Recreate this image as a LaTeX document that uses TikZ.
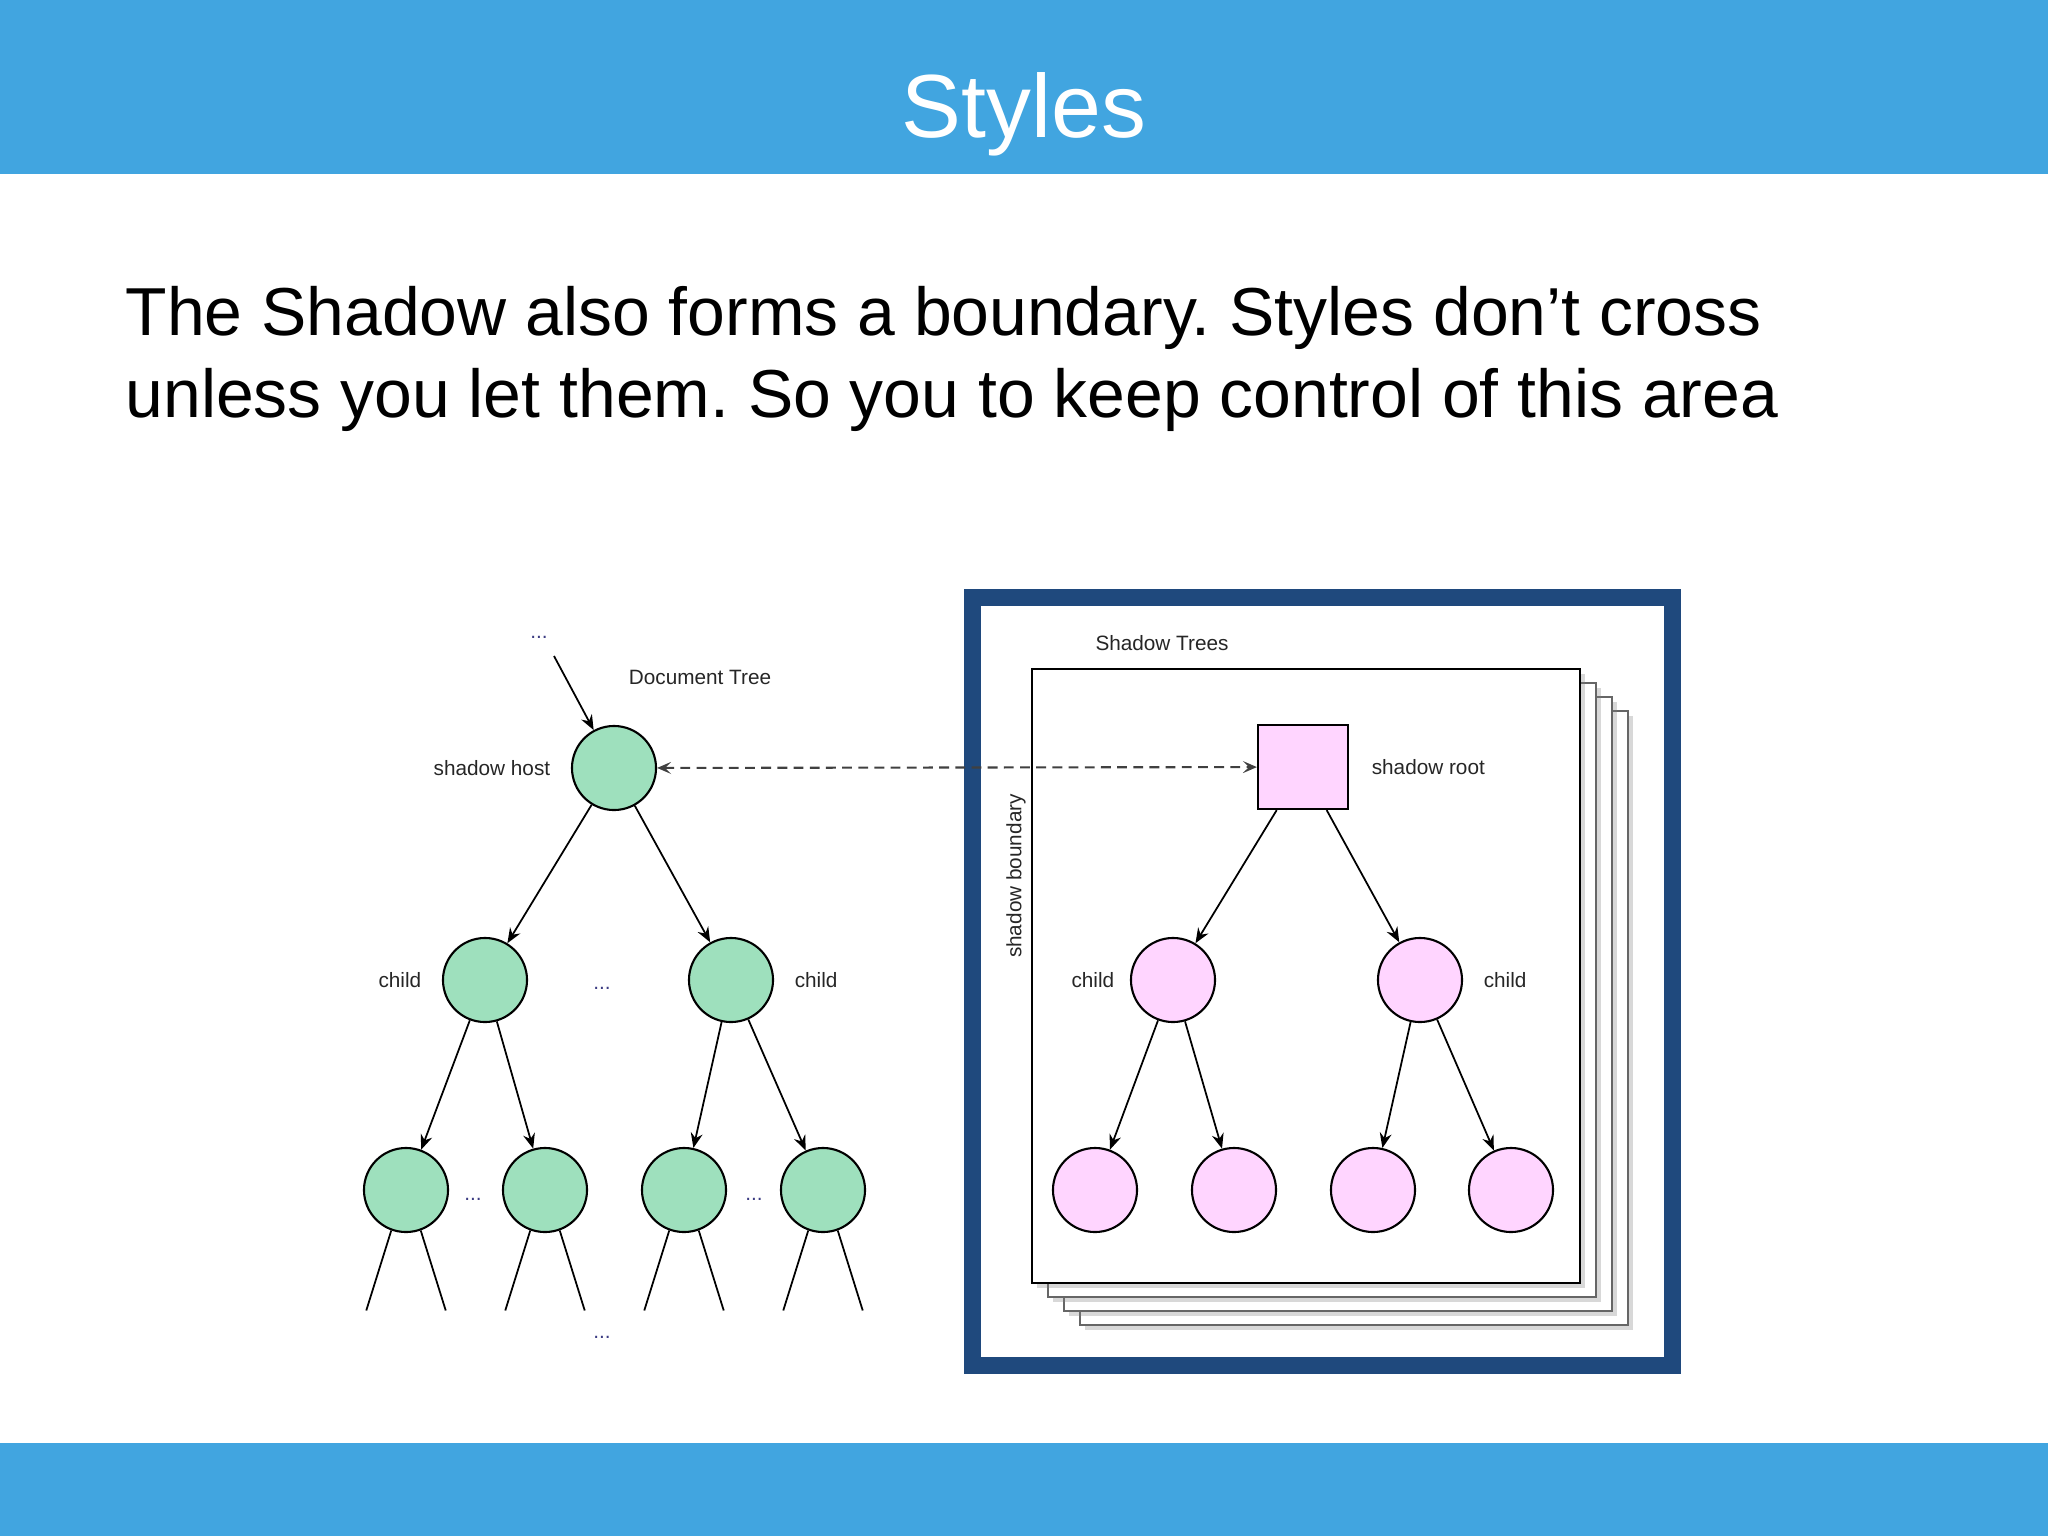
\documentclass[tikz,border=0pt]{standalone}
\usepackage{fontspec}
\setmainfont{Liberation Sans}
\usetikzlibrary{positioning,arrows.meta,shadows}
\frenchspacing

\definecolor{barblue}{RGB}{65,165,224}
\definecolor{frameblue}{RGB}{31,73,125}
\definecolor{hostgreen}{RGB}{158,224,189}
\definecolor{rootpink}{RGB}{255,213,255}
\definecolor{dotblue}{RGB}{60,60,130}

\tikzset{
  treenode/.style={circle, draw=black, line width=0.6pt, minimum size=0.84cm, inner sep=0pt},
  greennode/.style={treenode, fill=hostgreen},
  pinknode/.style={treenode, fill=rootpink},
  rootbox/.style={rectangle, draw=black, line width=0.6pt, fill=rootpink,
                  minimum width=0.9cm, minimum height=0.84cm, inner sep=0pt},
  lbl/.style={font=\fontsize{5.9}{7}\selectfont, text=black!85, inner sep=0pt},
  dots/.style={font=\fontsize{5.9}{7}\selectfont, text=dotblue, inner sep=0pt},
  arr/.style={-{Stealth[length=1.5mm,width=1.2mm,inset=0.5mm]}, line width=0.5pt},
  dasharr/.style={{Stealth[length=1.4mm,width=1.2mm,inset=0.6mm]}-{Stealth[length=1.4mm,width=1.2mm,inset=0.6mm]},
                  line width=0.6pt, black!75, dash pattern=on 2.8pt off 1.8pt},
  page/.style={fill=white, draw=black!60, line width=0.7pt,
               drop shadow={shadow xshift=0.05cm, shadow yshift=-0.05cm, opacity=0.3}},
}

\begin{document}
\begin{tikzpicture}[x=0.01cm, y=-0.01cm]
    \useasboundingbox (0,0) rectangle (2048,1536);

    % bars and title
    \fill[barblue] (0,0) rectangle (2048,174);
    \fill[barblue] (0,1443) rectangle (2048,1536);
    \node[anchor=base, text=white, font=\fontsize{25.5}{30}\selectfont, inner sep=0pt] (title) at (1024,137) {Styles};

    \node[anchor=base west, font=\fontsize{19.3}{23}\selectfont, inner sep=0pt] (line1) at (125,335)
        {The Shadow also forms a boundary. Styles don’t cross};
    \node[anchor=base west, font=\fontsize{19.3}{23}\selectfont, inner sep=0pt] (line2) at (125,417)
        {unless you let them. So you to keep control of this area};

    % shadow frame and stacked pages
    \draw[frameblue, line width=0.165cm, fill=white] (972.5,597.5) rectangle (1672.5,1365.5);
    \foreach \k in {3,2,1}
        \draw[page] ({1032+16*\k},{669+14*\k}) rectangle ++(548,614);
    \draw[page, draw=black] (1032,669) rectangle (1580,1283);

    % document tree
    \node[dots] (topdots) at (539,637) {...};
    \coordinate (topin) at (554,656);
    \node[lbl] (doctree) at (700,677) {Document Tree};
    \node[greennode] (host) at (614,768) {};
    \node[lbl, left=0.2cm of host] (hostlbl) {shadow host};

    \node[greennode] (c1) at (485,980) {};
    \node[greennode] (c2) at (731,980) {};
    \node[lbl, left=0.2cm of c1] (c1lbl) {child};
    \node[lbl, right=0.2cm of c2] (c2lbl) {child};
    \node[dots] (middots) at (602,988) {...};

    \node[greennode] (g1) at (406,1190) {};
    \node[greennode] (g2) at (545,1190) {};
    \node[greennode] (g3) at (684,1190) {};
    \node[greennode] (g4) at (823,1190) {};
    \node[dots] (gdots1) at (473,1199) {...};
    \node[dots] (gdots2) at (754,1199) {...};
    \node[dots] (botdots) at (602,1337) {...};

    \draw[arr] (topin) -- (host);
    \draw[arr] (host) -- (c1);
    \draw[arr] (host) -- (c2);
    \draw[arr] (c1) -- (g1);
    \draw[arr] (c1) -- (g2);
    \draw[arr] (c2) -- (g3);
    \draw[arr] (c2) -- (g4);
    \foreach \g in {g1,g2,g3,g4} {
        \draw[line width=0.5pt] (\g.250) -- ++(-25,80);
        \draw[line width=0.5pt] (\g.290) -- ++(25,80);
    }

    % shadow tree
    \node[lbl] (shtrees) at (1162,643) {Shadow Trees};
    \node[lbl, rotate=90] (boundary) at (1016,876) {shadow boundary};
    \node[rootbox] (root) at (1303,767) {};
    \node[lbl, right=0.22cm of root] (rootlbl) {shadow root};

    \node[pinknode] (p1) at (1173,980) {};
    \node[pinknode] (p2) at (1420,980) {};
    \node[lbl, left=0.15cm of p1] (p1lbl) {child};
    \node[lbl, right=0.2cm of p2] (p2lbl) {child};

    \node[pinknode] (q1) at (1095,1190) {};
    \node[pinknode] (q2) at (1234,1190) {};
    \node[pinknode] (q3) at (1373,1190) {};
    \node[pinknode] (q4) at (1511,1190) {};

    \draw[arr] (root) -- (p1);
    \draw[arr] (root) -- (p2);
    \draw[arr] (p1) -- (q1);
    \draw[arr] (p1) -- (q2);
    \draw[arr] (p2) -- (q3);
    \draw[arr] (p2) -- (q4);

    \draw[dasharr] (host) -- (root);
\end{tikzpicture}
\end{document}
